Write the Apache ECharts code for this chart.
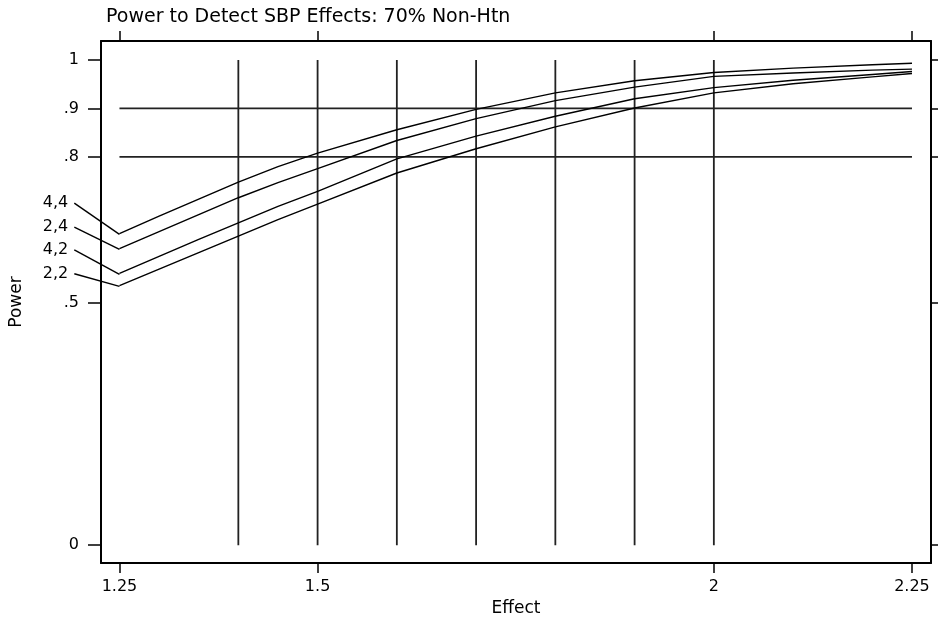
<!DOCTYPE html>
<html><head><meta charset="utf-8">
<script src="https://cdn.jsdelivr.net/npm/echarts@6/dist/echarts.min.js"></script>
<style>html,body{margin:0;padding:0;background:#fff}#c{width:938px;height:622px}</style>
</head><body><div id="c"></div>
<script>
const titleText = 'Power to Detect SBP Effects: 70% Non-Htn';
const xName = 'Effect';
const yName = 'Power';
const effect = [1.25, 1.30, 1.35, 1.40, 1.45, 1.50, 1.60, 1.70, 1.80, 1.90, 2.00, 2.10, 2.20, 2.25];
const p44 = [0.642, 0.678, 0.713, 0.748, 0.780, 0.808, 0.856, 0.898, 0.932, 0.957, 0.974, 0.983, 0.990, 0.993];
const p24 = [0.611, 0.646, 0.681, 0.716, 0.747, 0.776, 0.834, 0.879, 0.916, 0.944, 0.966, 0.973, 0.979, 0.981];
const p42 = [0.560, 0.595, 0.630, 0.664, 0.698, 0.729, 0.796, 0.843, 0.884, 0.920, 0.943, 0.958, 0.970, 0.976];
const p22 = [0.535, 0.569, 0.603, 0.637, 0.671, 0.703, 0.767, 0.817, 0.862, 0.901, 0.932, 0.951, 0.965, 0.972];
const seriesNames = ['4,4', '2,4', '4,2', '2,2'];
const labelX = 1.193;
const labelY = [0.706, 0.657, 0.610, 0.561];
const xTicks = [1.25, 1.5, 2, 2.25];
const xTickLabels = ['1.25', '1.5', '2', '2.25'];
const yTicks = [0, 0.5, 0.8, 0.9, 1];
const yTickLabels = ['0', '.5', '.8', '.9', '1'];
const refX = [1.4, 1.5, 1.6, 1.7, 1.8, 1.9, 2.0];
const refY = [0.8, 0.9];
const xMin = 1.2267, xMax = 2.274;
const yMin = -0.037, yMax = 1.039;

const W = 938, H = 622;
const G = {left: 101, right: 7, top: 41, bottom: 57};
const FONT = 'DejaVu Sans';
const INK = '#000';
const curves = [p44, p24, p42, p22];

// full-canvas overlay grid sharing the same data scale (for the label leaders outside the frame)
const pxX = (xMax - xMin) / (W - G.left - G.right);
const pxY = (yMax - yMin) / (H - G.top - G.bottom);
const oxMin = xMin - G.left * pxX, oxMax = xMax + G.right * pxX;
const oyMin = yMin - G.bottom * pxY, oyMax = yMax + G.top * pxY;

function lookup(ticks, labels) {
  return v => {
    const i = ticks.findIndex(t => Math.abs(t - v) < 1e-6);
    return i >= 0 ? labels[i] : '';
  };
}

const series = [];
refX.forEach(x => series.push({
  type: 'line', silent: true, symbol: 'none', xAxisIndex: 0, yAxisIndex: 0,
  data: [[x, 0], [x, 1]], lineStyle: {color: '#222', width: 1.8}, z: 1
}));
refY.forEach(y => series.push({
  type: 'line', silent: true, symbol: 'none', xAxisIndex: 0, yAxisIndex: 0,
  data: [[effect[0], y], [effect[effect.length - 1], y]], lineStyle: {color: '#222', width: 1.8}, z: 1
}));
curves.forEach((arr, k) => {
  series.push({
    name: seriesNames[k], type: 'line', symbol: 'none', showSymbol: false,
    xAxisIndex: 0, yAxisIndex: 0, data: effect.map((x, i) => [x, arr[i]]),
    lineStyle: {color: INK, width: 1.4}, z: 3
  });
  // leader from the label to the first point
  series.push({
    type: 'line', silent: true, symbol: 'none', clip: false,
    xAxisIndex: 2, yAxisIndex: 2,
    data: [[labelX, labelY[k]], [effect[0], arr[0]]],
    lineStyle: {color: INK, width: 1.4}, z: 3
  });
  series.push({
    type: 'scatter', silent: true, symbolSize: 0.01, clip: false,
    itemStyle: {color: INK, opacity: 1},
    xAxisIndex: 2, yAxisIndex: 2,
    data: [[labelX, labelY[k]]],
    label: {show: true, position: 'left', distance: 6, formatter: seriesNames[k],
            color: INK, opacity: 1, fontFamily: FONT, fontSize: 16},
    z: 4
  });
});

const axisLineStyle = {show: true, onZero: false, lineStyle: {color: INK, width: 2}};
const tickStyle = {color: INK, width: 1.5};
const labelStyle = {color: INK, fontFamily: FONT, fontSize: 16};
const nameStyle = {color: INK, fontFamily: FONT, fontSize: 17};
const hiddenAxis = {show: false, axisLine: {show: false}, axisTick: {show: false}, axisLabel: {show: false}, splitLine: {show: false}};

const option = {
  animation: false,
  backgroundColor: '#fff',
  title: {
    text: titleText, left: 101, top: 3,
    textStyle: {color: INK, fontFamily: FONT, fontSize: 19, fontWeight: 'normal'}
  },
  grid: [
    {left: G.left, right: G.right, top: G.top, bottom: G.bottom, containLabel: false},
    {left: 0, right: 0, top: 0, bottom: 0, containLabel: false}
  ],
  xAxis: [
    {
      type: 'value', gridIndex: 0, position: 'bottom', min: xMin, max: xMax,
      axisLine: axisLineStyle,
      axisTick: {show: true, length: 10, customValues: xTicks, lineStyle: tickStyle},
      axisLabel: Object.assign({show: true, customValues: xTicks, margin: 16, formatter: lookup(xTicks, xTickLabels)}, labelStyle),
      splitLine: {show: false},
      name: xName, nameLocation: 'middle', nameGap: 32,
      nameTextStyle: nameStyle
    },
    {
      type: 'value', gridIndex: 0, position: 'top', min: xMin, max: xMax,
      axisLine: axisLineStyle,
      axisTick: {show: true, length: 10, customValues: xTicks, lineStyle: tickStyle},
      axisLabel: {show: false}, splitLine: {show: false}
    },
    Object.assign({type: 'value', gridIndex: 1, min: oxMin, max: oxMax}, hiddenAxis)
  ],
  yAxis: [
    {
      type: 'value', gridIndex: 0, position: 'left', min: yMin, max: yMax,
      axisLine: axisLineStyle,
      axisTick: {show: true, length: 13, customValues: yTicks, lineStyle: tickStyle},
      axisLabel: Object.assign({show: true, customValues: yTicks, margin: 22, formatter: lookup(yTicks, yTickLabels)}, labelStyle),
      splitLine: {show: false},
      name: yName, nameLocation: 'middle', nameGap: 76, nameRotate: 90,
      nameTextStyle: nameStyle
    },
    {
      type: 'value', gridIndex: 0, position: 'right', min: yMin, max: yMax,
      axisLine: axisLineStyle,
      axisTick: {show: true, length: 7, customValues: yTicks, lineStyle: tickStyle},
      axisLabel: {show: false}, splitLine: {show: false}
    },
    Object.assign({type: 'value', gridIndex: 1, min: oyMin, max: oyMax}, hiddenAxis)
  ],
  series: series
};

const chart = echarts.init(document.getElementById('c'), null, {renderer: 'canvas'});
chart.setOption(option);
</script>
</body></html>
